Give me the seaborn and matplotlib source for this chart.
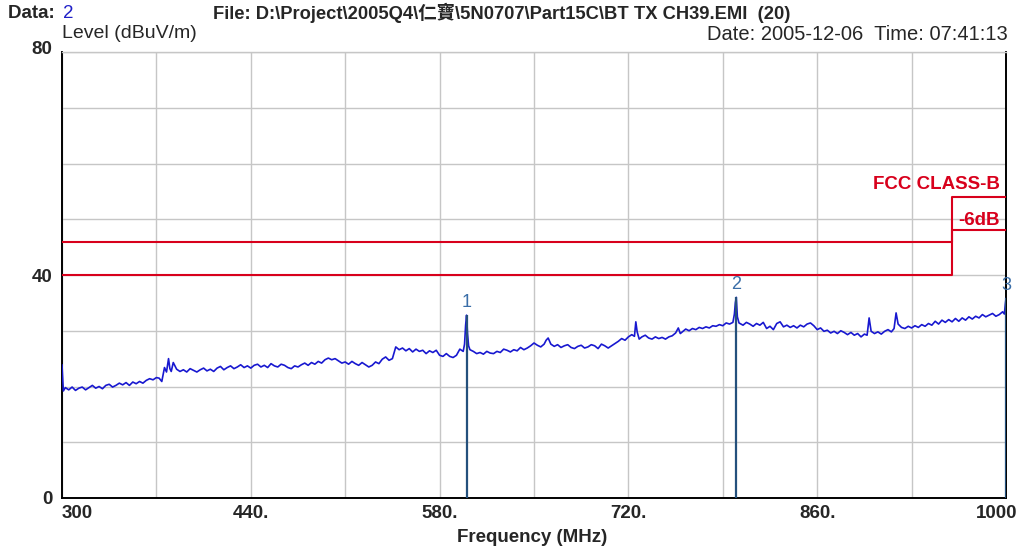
import numpy as np
import pandas as pd
import matplotlib
matplotlib.use("Agg")
import matplotlib.pyplot as plt
import matplotlib.transforms as mtransforms
import seaborn as sns

# ---------------- data ----------------
freq_mhz = [
    300, 301, 302.5, 305, 307.5, 310, 312.5, 315, 317.5, 320,
    322.5, 325, 327.5, 330, 332.5, 335, 337.5, 340, 342.5, 345,
    347.5, 350, 352.5, 355, 357.5, 360, 362.5, 365, 367.5, 370,
    372, 374, 376, 377.5, 379, 380, 381, 382.5, 385, 387.5,
    390, 392.5, 395, 397.5, 400, 402.5, 405, 407.5, 410, 412.5,
    415, 417.5, 420, 422.5, 425, 427.5, 430, 432.5, 435, 437.5,
    440, 442.5, 445, 447.5, 450, 452.5, 455, 457.5, 460, 462.5,
    465, 467.5, 470, 472.5, 475, 477.5, 480, 482.5, 485, 487.5,
    490, 492.5, 495, 497.5, 500, 502.5, 505, 507.5, 510, 512.5,
    515, 517.5, 520, 522.5, 525, 527.5, 530, 532.5, 535, 537.5,
    540, 542.5, 545, 547.5, 550, 552.5, 555, 557.5, 560, 562.5,
    565, 567.5, 570, 572.5, 575, 577.5, 580, 582.5, 585, 587.5,
    590, 592.5, 595, 597.5, 598.5, 599.3, 600, 600.7, 601.5, 602.5,
    605, 607.5, 610, 612.5, 615, 617.5, 620, 622.5, 625, 627.5,
    630, 632.5, 635, 637.5, 640, 642.5, 645, 647.5, 650, 652.5,
    655, 657.5, 659, 660.5, 662.5, 665, 667.5, 670, 672.5, 675,
    677.5, 680, 682.5, 685, 687.5, 690, 692.5, 695, 697.5, 700,
    702.5, 705, 707.5, 710, 712.5, 715, 717.5, 720, 722.5, 724.5,
    725.5, 726.5, 728, 730, 732.5, 735, 737.5, 740, 742.5, 745,
    747.5, 750, 752.5, 755, 757, 758.5, 760, 762.5, 765, 767.5,
    770, 772.5, 775, 777.5, 780, 782.5, 785, 787.5, 790, 792.5,
    795, 797.5, 798.6, 799.3, 800, 800.8, 802, 805, 807.5, 810,
    812.5, 815, 817.5, 820, 822.5, 825, 827.5, 830, 832.5, 835,
    837.5, 840, 842.5, 845, 847.5, 850, 852.5, 855, 857.5, 860,
    862.5, 865, 867.5, 870, 872.5, 875, 877.5, 880, 882.5, 885,
    887.5, 890, 892.5, 895, 897, 898.5, 900, 902.5, 905, 907.5,
    910, 912.5, 915, 917, 918.5, 920, 922.5, 925, 927.5, 930,
    932.5, 935, 937.5, 940, 942.5, 945, 947.5, 950, 952.5, 955,
    957.5, 960, 962.5, 965, 967.5, 970, 972.5, 975, 977.5, 980,
    982.5, 985, 987.5, 990, 992.5, 995, 997.5, 998.8, 999.5, 1000,
]
level_dbuv = [
    23.9, 19.2, 19.8, 19.4, 19.9, 19.3, 19.7, 19.9, 19.4, 19.8,
    20.2, 19.7, 20.0, 19.6, 20.2, 20.4, 19.9, 20.2, 20.6, 20.3,
    20.7, 20.2, 20.8, 20.5, 20.9, 20.6, 21.1, 21.4, 21.2, 21.6,
    21.5, 20.9, 23.4, 22.6, 25.0, 23.2, 22.7, 24.3, 23.1, 22.7,
    23.0, 22.6, 23.2, 22.9, 22.6, 23.0, 23.3, 22.8, 23.1, 22.7,
    23.3, 23.6, 23.0, 23.4, 23.7, 23.2, 23.5, 23.9, 23.4, 23.7,
    23.3, 23.8, 24.0, 23.5, 23.8, 23.4, 24.1, 23.7, 23.5, 24.0,
    23.8, 23.4, 23.2, 23.7, 23.5, 23.9, 24.2, 23.8, 24.3, 24.0,
    24.5, 24.2, 24.8, 25.1, 24.8, 25.0, 24.6, 24.2, 24.4, 24.0,
    24.5, 24.1, 23.8, 24.3, 23.9, 23.5, 23.8, 24.4, 24.1, 24.9,
    25.3, 24.7, 25.0, 27.1, 26.6, 26.9, 26.4, 26.8, 26.2, 26.7,
    26.3, 26.5, 25.9, 26.4, 26.1, 26.5, 25.6, 25.4, 25.9, 25.4,
    25.2, 25.6, 26.7, 26.3, 27.6, 31.0, 32.8, 29.5, 27.3, 26.6,
    26.3, 25.9, 26.1, 25.8, 26.3, 26.0, 25.9, 26.3, 26.1, 26.7,
    26.5, 26.2, 26.6, 26.4, 27.0, 26.6, 26.9, 27.3, 27.8, 27.4,
    27.1, 27.6, 28.3, 28.7, 27.6, 27.2, 27.5, 27.0, 27.3, 27.5,
    27.0, 26.8, 27.2, 27.4, 26.9, 27.1, 27.5, 27.3, 26.8, 27.6,
    27.3, 26.9, 27.3, 27.7, 28.1, 28.6, 28.3, 28.9, 29.3, 29.0,
    31.6, 29.8, 28.5, 28.9, 29.2, 28.7, 28.5, 28.9, 28.6, 28.8,
    28.5, 28.9, 29.1, 29.6, 30.5, 29.5, 29.8, 30.3, 30.0, 30.4,
    30.2, 30.6, 30.4, 30.7, 30.5, 30.9, 30.8, 31.1, 30.9, 31.4,
    31.2, 31.5, 33.0, 35.0, 36.0, 32.5, 31.4, 31.0, 31.5, 31.2,
    30.8, 31.3, 31.0, 31.5, 30.4, 30.8, 30.2, 31.3, 31.6, 30.7,
    31.0, 30.6, 30.9, 30.5, 31.0, 30.7, 31.2, 31.4, 30.9, 30.2,
    30.5, 29.9, 30.1, 29.6, 29.9, 29.5, 30.0, 29.7, 29.3, 29.7,
    29.2, 29.5, 28.9, 29.4, 29.2, 32.3, 29.9, 29.5, 29.8, 29.4,
    29.9, 30.2, 29.8, 30.4, 33.2, 31.2, 30.6, 30.4, 30.8, 30.5,
    30.9, 30.6, 31.1, 30.8, 31.3, 31.0, 31.7, 31.2, 31.9, 31.5,
    32.0, 31.6, 32.2, 31.7, 32.3, 31.9, 32.5, 32.1, 32.6, 32.3,
    32.9, 32.5, 32.8, 33.1, 32.6, 32.9, 33.4, 33.0, 34.8, 35.8,
]
assert len(freq_mhz) == len(level_dbuv)

limit_freq = [300, 960, 960, 1000]
limit_level = [40, 40, 54, 54]
margin_freq = [300, 960, 960, 1000]
margin_level = [46, 46, 48, 48]

marker_freq = [600, 800, 1000]
marker_level = [32.8, 36.0, 35.8]
marker_labels = ["1", "2", "3"]

x_ticks = [300, 440, 580, 720, 860, 1000]
x_tick_labels = ["300", "440.", "580.", "720.", "860.", "1000"]
x_grid = [370, 510, 650, 790, 930]
y_ticks = [0, 40, 80]
y_tick_labels = ["0", "40", "80"]
y_grid = [10, 20, 30, 50, 60, 70]

# ---------------- style ----------------
sns.set_style("white")
plt.rcParams["font.family"] = ["Liberation Sans", "Noto Sans CJK TC", "DejaVu Sans"]

W, H = 1020, 554
fig = plt.figure(figsize=(W / 100, H / 100), dpi=100)
ax = fig.add_axes([62 / W, 1 - 498 / H, (1006 - 62) / W, (498 - 52) / H])

RED = "#d8001c"
BLUE = "#1818d0"
MARK = "#24507c"
GRID = "#c6c6c6"

trace = pd.DataFrame({"freq": freq_mhz, "level": level_dbuv})
sns.lineplot(data=trace, x="freq", y="level", ax=ax, color=BLUE, lw=1.2,
             sort=False, estimator=None, zorder=4)
sns.lineplot(x=limit_freq, y=limit_level, ax=ax, color=RED, lw=1.5,
             sort=False, estimator=None, zorder=3)
sns.lineplot(x=margin_freq, y=margin_level, ax=ax, color=RED, lw=1.5,
             sort=False, estimator=None, zorder=3)

ax.vlines(marker_freq, 0, marker_level, color=MARK, lw=1.6, zorder=5)
for f, lv, lab in zip(marker_freq, marker_level, marker_labels):
    ax.annotate(lab, (f, lv), xytext=(0, 3), textcoords="offset points",
                ha="center", va="bottom", color="#3a6ea8", fontsize=13,
                annotation_clip=False, zorder=6)

ax.text(995.5, 55.4, "FCC CLASS-B", color=RED, fontsize=13.5, fontweight="bold",
        ha="right", va="baseline", zorder=6)
ax.text(995.5, 49.0, "-6dB", color=RED, fontsize=13.5, fontweight="bold",
        ha="right", va="baseline", zorder=6)

ax.set_xlim(300, 1000)
ax.set_ylim(0, 80)
ax.set_xticks(x_ticks)
ax.set_xticklabels(x_tick_labels, fontsize=13.5, fontweight="bold")
ax.set_xticks(x_grid, minor=True)
ax.set_yticks(y_ticks)
ax.set_yticklabels(y_tick_labels, fontsize=13.5, fontweight="bold")
ax.set_yticks(y_grid, minor=True)
ax.tick_params(which="both", length=0)
ax.tick_params(axis="x", pad=5)
ax.tick_params(axis="y", pad=7)
ax.grid(which="both", color=GRID, lw=1.0, zorder=0)
ax.set_axisbelow(True)

xl = ax.get_xticklabels()
xl[0].set_horizontalalignment("left")
xl[-1].set_transform(xl[-1].get_transform() +
                     mtransforms.ScaledTranslation(-9 / 100, 0, fig.dpi_scale_trans))
yl = ax.get_yticklabels()
yl[-1].set_transform(yl[-1].get_transform() +
                     mtransforms.ScaledTranslation(0, 4 / 100, fig.dpi_scale_trans))

ax.set_xlabel("")
ax.set_ylabel("")
for side in ["left", "bottom", "right"]:
    ax.spines[side].set_color("black")
    ax.spines[side].set_linewidth(1.4)
ax.spines["top"].set_color(GRID)
ax.spines["top"].set_linewidth(1.0)


def ftext(xpx, ypx, s, **kw):
    fig.text(xpx / W, 1 - ypx / H, s, **kw)


ftext(8, 13, "Data: ", fontsize=13.5, fontweight="bold", va="center", ha="left")
ftext(63, 13, "2", fontsize=13.5, color="#2020c8", va="center", ha="left")
ftext(213, 13, "File: D:\\Project\\2005Q4\\仁寶\\5N0707\\Part15C\\BT TX CH39.EMI  (20)",
      fontsize=13.2, fontweight="bold", va="center", ha="left")
ftext(62, 34, "Level (dBuV/m)", fontsize=14, va="center", ha="left")
ftext(1008, 34, "Date: 2005-12-06  Time: 07:41:13", fontsize=14.5, va="center", ha="right")
ftext(532, 538, "Frequency (MHz)", fontsize=13.5, fontweight="bold", va="center", ha="center")

fig.savefig("out.png", dpi=100, facecolor="white")
